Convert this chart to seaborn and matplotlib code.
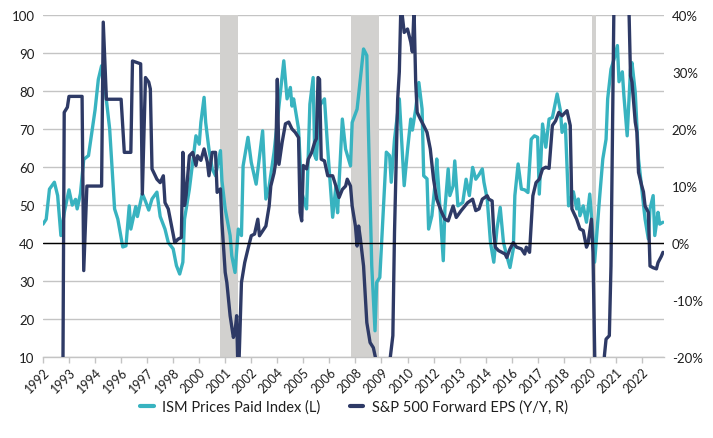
import pandas as pd
import seaborn as sns
import matplotlib.pyplot as plt
from matplotlib.lines import Line2D
from matplotlib.ticker import FuncFormatter

# ISM Prices Paid Index (left axis)
ism_dates = [
    "1992-01", "1992-03", "1992-05", "1992-08", "1992-10", "1992-12", "1993-02", "1993-05", "1993-07", "1993-09",
    "1993-10", "1993-12", "1994-02", "1994-05", "1994-07", "1994-09", "1994-11", "1995-01", "1995-03", "1995-06",
    "1995-09", "1995-11", "1996-02", "1996-04", "1996-06", "1996-07", "1996-10", "1996-11", "1997-02", "1997-04",
    "1997-06", "1997-08", "1997-11", "1998-01", "1998-04", "1998-06", "1998-09", "1998-11", "1999-01", "1999-03",
    "1999-04", "1999-07", "1999-10", "1999-11", "2000-01", "2000-02", "2000-04", "2000-05", "2000-07", "2000-09",
    "2000-11", "2001-02", "2001-03", "2001-05", "2001-08", "2001-09", "2001-11", "2002-01", "2002-03", "2002-04",
    "2002-07", "2002-09", "2002-12", "2003-04", "2003-06", "2003-08", "2003-11", "2004-05", "2004-07", "2004-09",
    "2004-10", "2004-11", "2005-02", "2005-04", "2005-07", "2005-09", "2005-11", "2005-12", "2006-01", "2006-03",
    "2006-06", "2006-08", "2006-11", "2007-01", "2007-02", "2007-05", "2007-07", "2007-10", "2007-11", "2008-02",
    "2008-04", "2008-06", "2008-08", "2008-09", "2008-10", "2008-11", "2009-01", "2009-02", "2009-04", "2009-06",
    "2009-08", "2009-10", "2009-11", "2010-01", "2010-04", "2010-07", "2010-09", "2010-11", "2010-12", "2011-02",
    "2011-04", "2011-06", "2011-07", "2011-09", "2011-10", "2011-12", "2012-02", "2012-03", "2012-05", "2012-07",
    "2012-08", "2012-10", "2012-11", "2013-01", "2013-02", "2013-04", "2013-07", "2013-09", "2013-11", "2014-01",
    "2014-03", "2014-05", "2014-07", "2014-08", "2014-10", "2014-12", "2015-02", "2015-04", "2015-06", "2015-08",
    "2015-10", "2015-12", "2016-02", "2016-03", "2016-05", "2016-07", "2016-09", "2016-11", "2017-01", "2017-03",
    "2017-05", "2017-06", "2017-08", "2017-10", "2017-12", "2018-02", "2018-05", "2018-07", "2018-08", "2018-10",
    "2018-12", "2019-02", "2019-03", "2019-05", "2019-06", "2019-07", "2019-09", "2019-11", "2020-01", "2020-02",
    "2020-04", "2020-07", "2020-09", "2020-11", "2020-12", "2021-02", "2021-04", "2021-06", "2021-07", "2021-09",
    "2021-10", "2021-12", "2022-02", "2022-03", "2022-05", "2022-07", "2022-09", "2022-11", "2023-01", "2023-02",
    "2023-04", "2023-05", "2023-07", "2023-08", "2023-10",
]
ism_values = [
    45, 46.3, 54.2, 56, 52.5, 42, 48, 54, 50, 51.5,
    49, 53, 62, 63, 69, 75, 83, 86.6, 81.4, 70,
    49, 46.3, 39, 39.3, 49.8, 43.7, 49.6, 47, 53, 51,
    48.7, 51.6, 53.4, 47, 43.7, 40.2, 38.5, 34.1, 31.9, 35,
    46.3, 54.2, 64.7, 68.2, 66, 71.7, 78.3, 71.7, 64.7, 59.5,
    57.7, 64.3, 56.4, 49, 42, 36.7, 32.3, 43.7, 42, 60.3,
    67.8, 61.2, 55.5, 69.5, 51.6, 54.9, 63.9, 87.9, 77.9, 80.9,
    76, 77.9, 70, 53.4, 49, 76.5, 83.5, 63, 62, 76.1,
    77.9, 64.7, 46.8, 55, 48, 72.6, 64.7, 60.3, 71.7, 75.2,
    83.1, 91, 89.3, 69.1, 51.6, 34.1, 17, 29.7, 31, 47.2,
    63.9, 63, 56, 67.3, 77.9, 55.1, 64.4, 72.6, 69.7, 75.2,
    82.2, 75.2, 57.7, 56.9, 43.7, 47.2, 56, 62.1, 49, 35.4,
    49, 59.5, 52.5, 55, 61.6, 49.8, 50.7, 56.8, 52.5, 59.9,
    56.8, 58, 59.5, 56, 51.6, 40.2, 35, 43.7, 49.4, 40.2,
    36.7, 33.6, 38.5, 52.5, 60.8, 54.2, 54, 53.3, 67.3, 68.2,
    67.8, 52.9, 71.3, 65.2, 72.6, 73, 79.2, 74.8, 69.1, 71.3,
    49.8, 52.5, 53.5, 49, 51.6, 47.2, 49.8, 45.5, 52.9, 47.2,
    35, 51.6, 62.1, 67.3, 77.9, 85.7, 88.4, 91.9, 82.4, 85,
    78.7, 68.2, 85.7, 87.4, 79.6, 62.1, 54.2, 46.3, 41.1, 49,
    52.5, 42, 48.1, 45, 45.5,
]

# S&P 500 forward EPS growth Y/Y in % (right axis); values beyond -20..40 run off the chart
eps_dates = [
    "1993-01", "1993-02", "1993-04", "1993-05", "1994-01", "1994-02", "1994-04", "1995-01", "1995-02", "1995-04",
    "1996-01", "1996-03", "1996-07", "1996-08", "1997-01", "1997-02", "1997-04", "1997-06", "1997-07", "1997-08",
    "1997-09", "1997-11", "1998-01", "1998-03", "1998-04", "1998-06", "1998-08", "1998-10", "1998-12", "1999-02",
    "1999-03", "1999-04", "1999-05", "1999-07", "1999-09", "1999-11", "1999-12", "2000-02", "2000-04", "2000-06",
    "2000-07", "2000-09", "2000-11", "2000-12", "2001-02", "2001-03", "2001-05", "2001-06", "2001-08", "2001-10",
    "2001-11", "2001-12", "2002-01", "2002-03", "2002-05", "2002-07", "2002-09", "2002-11", "2003-01", "2003-02",
    "2003-06", "2003-08", "2003-09", "2003-11", "2003-12", "2004-01", "2004-02", "2004-04", "2004-06", "2004-08",
    "2004-10", "2004-12", "2005-02", "2005-03", "2005-04", "2005-05", "2005-07", "2005-08", "2005-10", "2005-12",
    "2006-01", "2006-02", "2006-03", "2006-04", "2006-06", "2006-08", "2006-11", "2007-01", "2007-03", "2007-05",
    "2007-07", "2007-08", "2007-10", "2007-11", "2008-01", "2008-02", "2008-03", "2008-04", "2008-06", "2008-08",
    "2008-10", "2008-12", "2009-02", "2009-05", "2009-08", "2009-10", "2009-12", "2010-01", "2010-03", "2010-04",
    "2010-05", "2010-07", "2010-09", "2010-11", "2010-12", "2011-01", "2011-02", "2011-03", "2011-05", "2011-07",
    "2011-09", "2011-11", "2012-01", "2012-03", "2012-06", "2012-08", "2012-10", "2013-01", "2013-03", "2013-06",
    "2013-10", "2014-01", "2014-03", "2014-05", "2014-07", "2014-10", "2014-11", "2015-01", "2015-02", "2015-03",
    "2015-05", "2015-07", "2015-09", "2015-10", "2015-12", "2016-02", "2016-04", "2016-07", "2016-09", "2016-10",
    "2016-12", "2017-02", "2017-04", "2017-06", "2017-08", "2017-10", "2017-12", "2018-02", "2018-04", "2018-06",
    "2018-08", "2018-11", "2019-01", "2019-02", "2019-05", "2019-07", "2019-09", "2019-11", "2019-12", "2020-02",
    "2020-03", "2020-05", "2020-08", "2020-10", "2020-11", "2021-01", "2021-02", "2021-03", "2021-04", "2021-08",
    "2021-12", "2022-01", "2022-02", "2022-03", "2022-05", "2022-06", "2022-07", "2022-09", "2022-10", "2022-11",
    "2023-01", "2023-02", "2023-04", "2023-06", "2023-07", "2023-09", "2023-10",
]
eps_values = [
    -35, 22.9, 23.8, 25.7, 25.7, -4.8, 10, 10, 38.7, 25.2,
    25.2, 15.9, 15.9, 31.9, 31.4, 8.6, 29, 28.2, 27, 13,
    12.4, 11.2, 10.6, 11.8, 7.1, 6, 3, 0.1, 0.7, 1,
    15.9, 6.6, 8.4, 15.3, 15.9, 13.6, 15.3, 14.5, 16.5, 14.2,
    11.8, 15.9, 15.9, 8.9, 9.5, 3.6, -5.1, -6.9, -12.7, -16.5,
    -15.5, -12.7, -25, -6.9, -3.4, -1, 1.3, 1.6, 4.2, 1.3,
    3, 6.5, 10, 12.3, 14.1, 28.7, 13.8, 17.7, 20.9, 21.2,
    20, 19.4, 18.5, 5.4, 3.9, 13.6, 13, 14.7, 15.8, 17.7,
    18.3, 29, 28.7, 14.7, 14.4, 11.8, 11.8, 10, 8, 9.4,
    10, 11.2, 10, 6.5, 3, -0.5, 3, 0.9, -4, -13.9,
    -17.4, -18.3, -21, -30, -28, -21, -16.2, 1.9, 25.2, 30,
    42, 36.9, 37.5, 35.2, 33.5, 41, 28.2, 22.9, 21.7, 20.6,
    19.4, 16.5, 11.2, 7.7, 5.4, 4.2, 3.9, 6.5, 4.5, 5.7,
    7.1, 7.7, 5.7, 6, 7.7, 8.3, 7.7, 7.4, 1.9, -0.7,
    -1.3, -1.6, -1.9, -2.5, -1, 0.1, -0.7, -1, -1.9, -0.7,
    -1.6, 8.3, 10.6, 11.2, 13, 13.3, 13.1, 20.6, 21.4, 22.9,
    22.3, 23.2, 20.6, 6, 4.2, 2.5, 2.2, -0.7, 0, 4.2,
    -1.6, -35, -35, -19.7, -16.8, -16.2, -4, 19.4, 45, 55,
    45, 42, 29.3, 28.2, 21.2, 19.4, 12.4, 10, 9, 6.5,
    5.4, -4, -4.3, -4.5, -3.4, -2.3, -1.6,
]

recession_starts = ["2001-01-15", "2007-10-10", "2020-02-12"]
recession_ends = ["2002-01-01", "2009-03-25", "2020-04-28"]

tick_dates = pd.date_range("1992-01-01", periods=24, freq="16MS")
left_ticks = [10, 20, 30, 40, 50, 60, 70, 80, 90, 100]
right_ticks = [-20, -10, 0, 10, 20, 30, 40]

TEAL = "#38B3C0"
NAVY = "#2E3A66"
GRID = "#C4C4C4"
SHADE = "#D2D1CF"
TEXT = "#1E1E1E"

sns.set_theme(style="white")
plt.rcParams["font.family"] = ["Lato", "DejaVu Sans"]

ism = pd.DataFrame({"date": pd.to_datetime(ism_dates), "value": ism_values})
eps = pd.DataFrame({"date": pd.to_datetime(eps_dates), "value": eps_values})

fig = plt.figure(figsize=(7.13, 4.39), dpi=100)
ax = fig.add_axes([0.0603, 0.1836, 0.8704, 0.7806])
ax2 = ax.twinx()

for s, e in zip(recession_starts, recession_ends):
    ax.axvspan(pd.Timestamp(s), pd.Timestamp(e), color=SHADE, lw=0, zorder=1)

sns.lineplot(data=ism, x="date", y="value", ax=ax, color=TEAL, lw=2.4, legend=False, zorder=2)
sns.lineplot(data=eps, x="date", y="value", ax=ax2, color=NAVY, lw=2.4, legend=False, zorder=2)
ax2.axhline(0, color="black", lw=1, zorder=3)

ax.set_xlim(pd.Timestamp("1992-01-01"), pd.Timestamp("2023-10-13"))
ax.set_ylim(10, 100)
ax2.set_ylim(-20, 40)

ax.set_axisbelow(True)
ax.grid(axis="y", color=GRID, lw=1)
ax.grid(axis="x", visible=False)
ax2.grid(False)

for sp in ["top", "left", "right"]:
    ax.spines[sp].set_visible(False)
for sp in ax2.spines.values():
    sp.set_visible(False)
ax.spines["bottom"].set_color(GRID)
ax.spines["bottom"].set_linewidth(1)

ax.set_yticks(left_ticks)
ax2.set_yticks(right_ticks)
ax2.yaxis.set_major_formatter(FuncFormatter(lambda v, _: f"{v:.0f}%"))
ax.set_xticks(tick_dates)
ax.set_xticklabels([d.strftime("%Y") for d in tick_dates], rotation=45, ha="right",
                   rotation_mode="anchor")

ax.tick_params(axis="x", direction="out", length=4, width=1, color=GRID, labelsize=9,
               labelcolor=TEXT, pad=2, bottom=True)
ax.tick_params(axis="y", length=0, labelsize=9.5, labelcolor=TEXT, pad=6)
ax2.tick_params(axis="y", length=0, labelsize=9.5, labelcolor=TEXT, pad=6)

ax.set_xlabel("")
ax.set_ylabel("")
ax2.set_xlabel("")
ax2.set_ylabel("")

handles = [Line2D([0], [0], color=TEAL, lw=3), Line2D([0], [0], color=NAVY, lw=3)]
labels = ["ISM Prices Paid Index (L)", "S&P 500 Forward EPS (Y/Y, R)"]
fig.legend(handles, labels, loc="center", bbox_to_anchor=(354 / 713, 1 - 408 / 439), ncol=2,
           frameon=False, fontsize=10.5, handlelength=0.9, columnspacing=2.0, handletextpad=0.6,
           labelcolor=TEXT)

fig.savefig("out.png", dpi=100)
